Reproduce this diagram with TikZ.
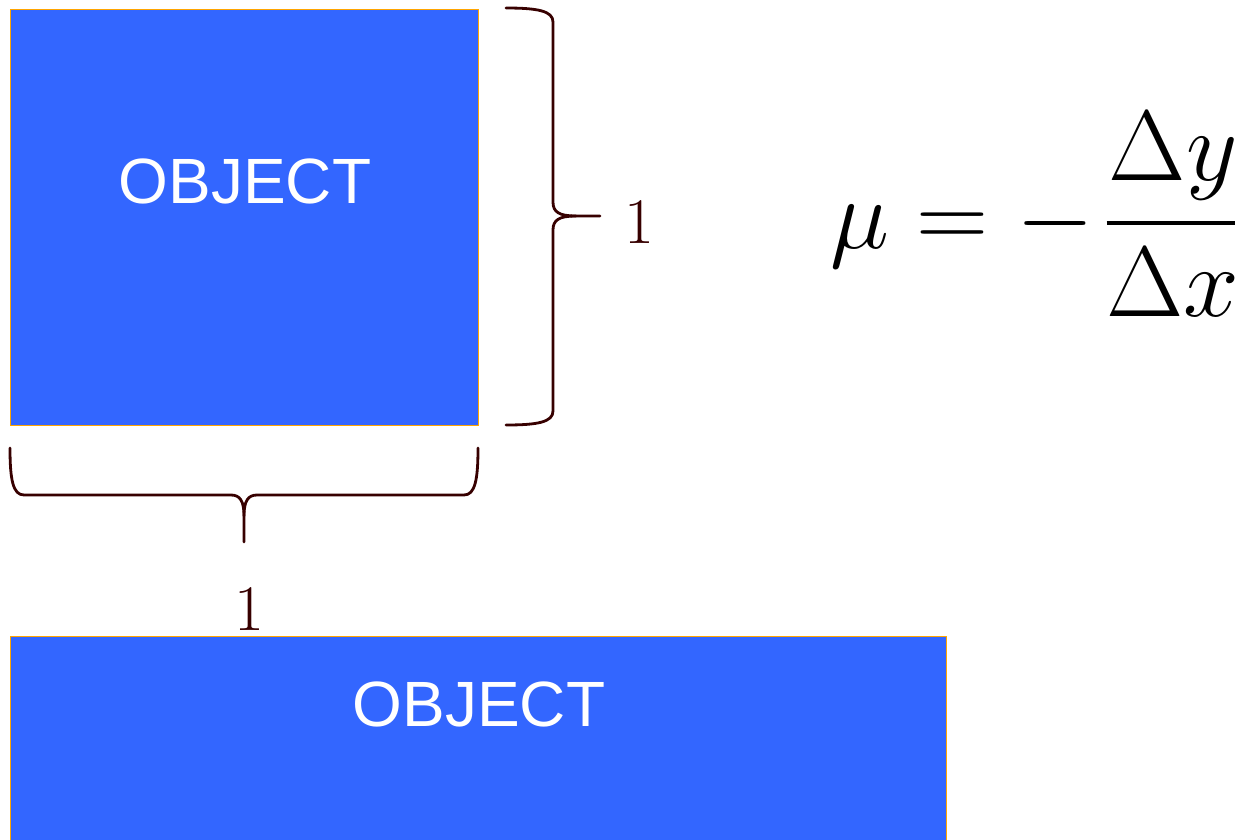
\RequirePackage{fix-cm}
\documentclass[tikz,border=0pt]{standalone}
\usepackage{fontspec}
\newfontfamily\objfont{Liberation Sans}
\definecolor{boxblue}{RGB}{51,102,255}
\definecolor{boxedge}{RGB}{255,165,0}
\definecolor{bracecol}{RGB}{55,0,0}
\tikzset{
  objbox/.style={draw=boxedge, line width=1pt, fill=boxblue},
  objtext/.style={inner sep=0pt, text=white, font=\objfont\fontsize{64}{77}\selectfont},
  bracepath/.style={draw=bracecol, line width=2.8pt, line cap=round, line join=round},
  bracelabel/.style={inner sep=0pt, text=bracecol, font=\fontsize{65}{78}\selectfont},
}
\begin{document}
\begin{tikzpicture}[x=1pt,y=-1pt]
  \useasboundingbox (0,0) rectangle (1235,839);
  \clip (0,0) rectangle (1235,839);
  % boxes
  \path[objbox] (10,9) rectangle (478,425);
  \node[objtext, anchor=base] (obj1) at (245,203) {OBJECT};
  \path[objbox] (10,636) rectangle (946,1060);
  \node[objtext, anchor=base] (obj2) at (479,726) {OBJECT};
  % right brace
  \coordinate (rtip) at (600,216);
  \path[bracepath] (506,8) .. controls (538,8) and (553,11) .. (553,22)
     -- (553,202) .. controls (553,212) and (559,216) .. (576,216) -- (rtip);
  \path[bracepath] (506,425) .. controls (538,425) and (553,422) .. (553,411)
     -- (553,230) .. controls (553,220) and (559,216) .. (576,216);
  \node[bracelabel, anchor=base west] (lab1) at (624,243) {1};
  % bottom brace
  \coordinate (btip) at (244,542);
  \path[bracepath] (10,448) .. controls (10,480) and (13,495) .. (24,495)
     -- (231,495) .. controls (240,495) and (244,501) .. (244,516) -- (btip);
  \path[bracepath] (478,448) .. controls (478,480) and (475,495) .. (464,495)
     -- (257,495) .. controls (248,495) and (244,501) .. (244,516);
  \node[bracelabel, anchor=base] (lab2) at (249,630) {1};
  % formula
  \node[inner sep=0pt, anchor=base west, font=\fontsize{100}{120}\selectfont] (mu) at (830,248)
    {$\displaystyle\mu = -\mkern2mu{\Delta y \above 4.5pt \Delta x}$};
\end{tikzpicture}
\end{document}
